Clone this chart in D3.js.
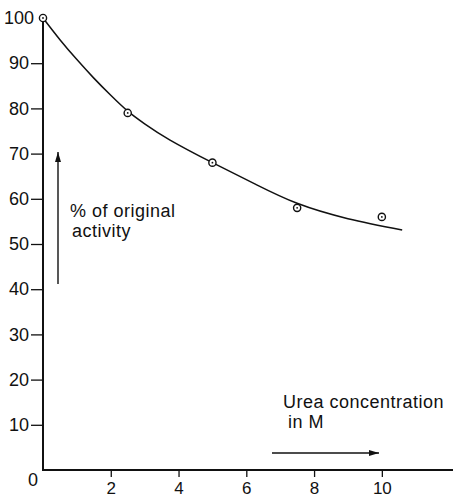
<!DOCTYPE html>
<html>
<head>
<meta charset="utf-8">
<script src="https://cdn.jsdelivr.net/npm/d3@7"></script>
<style>
  body { margin:0; background:#fff; }
  svg text { font-family:"Liberation Sans", Arial, sans-serif; fill:#111; }
</style>
</head>
<body>
<div id="chart"></div>
<script>
/* urea inactivation curve */

const urea     = [0, 2.5, 5, 7.5, 10];          // M
const activity = [100, 79, 68, 58, 56];         // % of original

// smooth fitted line
const fitX = [0, 0.5, 1, 1.5, 2, 2.5, 3, 3.75, 5, 6.25, 7.5, 9, 10.6];
const fitY = [100, 95.2, 90.8, 86.7, 82.9, 79.4, 76.6, 73.0, 68.0, 63.3, 59.0, 55.6, 53.1];

const yTicks = [10, 20, 30, 40, 50, 60, 70, 80, 90, 100];
const xTicks = [2, 4, 6, 8, 10];

const W = 453, H = 498;
const x = d3.scaleLinear().domain([0, 12.1]).range([43, 453]);
const y = d3.scaleLinear().domain([0, 100]).range([470, 18]);

const svg = d3.select("#chart").append("svg").attr("width", W).attr("height", H);

/* ---------- axes ---------- */
const gy = svg.append("g").attr("transform", `translate(${x(0)},0)`)
  .call(d3.axisLeft(y).tickValues(yTicks).tickSize(12).tickPadding(2));
gy.select(".domain").remove();
gy.selectAll(".tick line").attr("stroke", "#111").attr("stroke-width", 1.3)
  .filter(d => d === 100).remove();
gy.selectAll(".tick text").style("font-size", "18px")
  .filter(d => d === 100).attr("x", -9);

const gx = svg.append("g").attr("transform", `translate(0,${y(0)})`)
  .call(d3.axisBottom(x).tickValues(xTicks).tickSize(7).tickPadding(5));
gx.select(".domain").remove();
gx.selectAll(".tick line").attr("stroke", "#111").attr("stroke-width", 1.3);
gx.selectAll(".tick text").style("font-size", "17px");

// axis lines drawn heavier, like the pen lines of the original
svg.append("line").attr("x1", x(0)).attr("x2", x(0)).attr("y1", y(0)).attr("y2", y(100))
  .attr("stroke", "#111").attr("stroke-width", 2);
svg.append("line").attr("x1", x(0) - 1).attr("x2", W).attr("y1", y(0)).attr("y2", y(0))
  .attr("stroke", "#111").attr("stroke-width", 2);

svg.append("text").attr("x", x(0) - 10).attr("y", y(0) + 16)
  .attr("text-anchor", "middle").style("font-size", "18px").text("0");

/* ---------- fitted curve ---------- */
const line = d3.line().x(d => x(d[0])).y(d => y(d[1])).curve(d3.curveNatural);
svg.append("path").datum(d3.zip(fitX, fitY))
  .attr("d", line).attr("fill", "none").attr("stroke", "#111").attr("stroke-width", 1.5);

/* ---------- measured points ---------- */
const pts = svg.append("g").selectAll("g").data(d3.zip(urea, activity)).join("g")
  .attr("transform", d => `translate(${x(d[0])},${y(d[1])})`);
pts.append("circle").attr("r", 3.6).attr("fill", "#fff").attr("stroke", "#111").attr("stroke-width", 1.4);
pts.append("circle").attr("r", 0.9).attr("fill", "#111");

/* ---------- annotations ---------- */
svg.append("defs").append("marker").attr("id", "head")
  .attr("viewBox", "0 0 10 6").attr("refX", 10).attr("refY", 3)
  .attr("markerWidth", 10).attr("markerHeight", 6).attr("markerUnits", "userSpaceOnUse")
  .attr("orient", "auto")
  .append("path").attr("d", "M0,0L10,3L0,6Z").attr("fill", "#111");

svg.append("line").attr("x1", 58).attr("x2", 58).attr("y1", 284).attr("y2", 152)
  .attr("stroke", "#111").attr("stroke-width", 1.4).attr("marker-end", "url(#head)");
svg.append("line").attr("x1", 272).attr("x2", 379).attr("y1", 453).attr("y2", 453)
  .attr("stroke", "#111").attr("stroke-width", 1.4).attr("marker-end", "url(#head)");

const yl = svg.append("text").style("font-size", "18px").style("letter-spacing", "0.5px");
yl.append("tspan").attr("x", 70).attr("y", 217).text("% of original");
yl.append("tspan").attr("x", 72).attr("y", 237).text("activity");

const xl = svg.append("text").style("font-size", "18px").style("letter-spacing", "0.5px");
xl.append("tspan").attr("x", 283).attr("y", 408).text("Urea concentration");
xl.append("tspan").attr("x", 288).attr("y", 428).text("in M");
</script>
</body>
</html>
